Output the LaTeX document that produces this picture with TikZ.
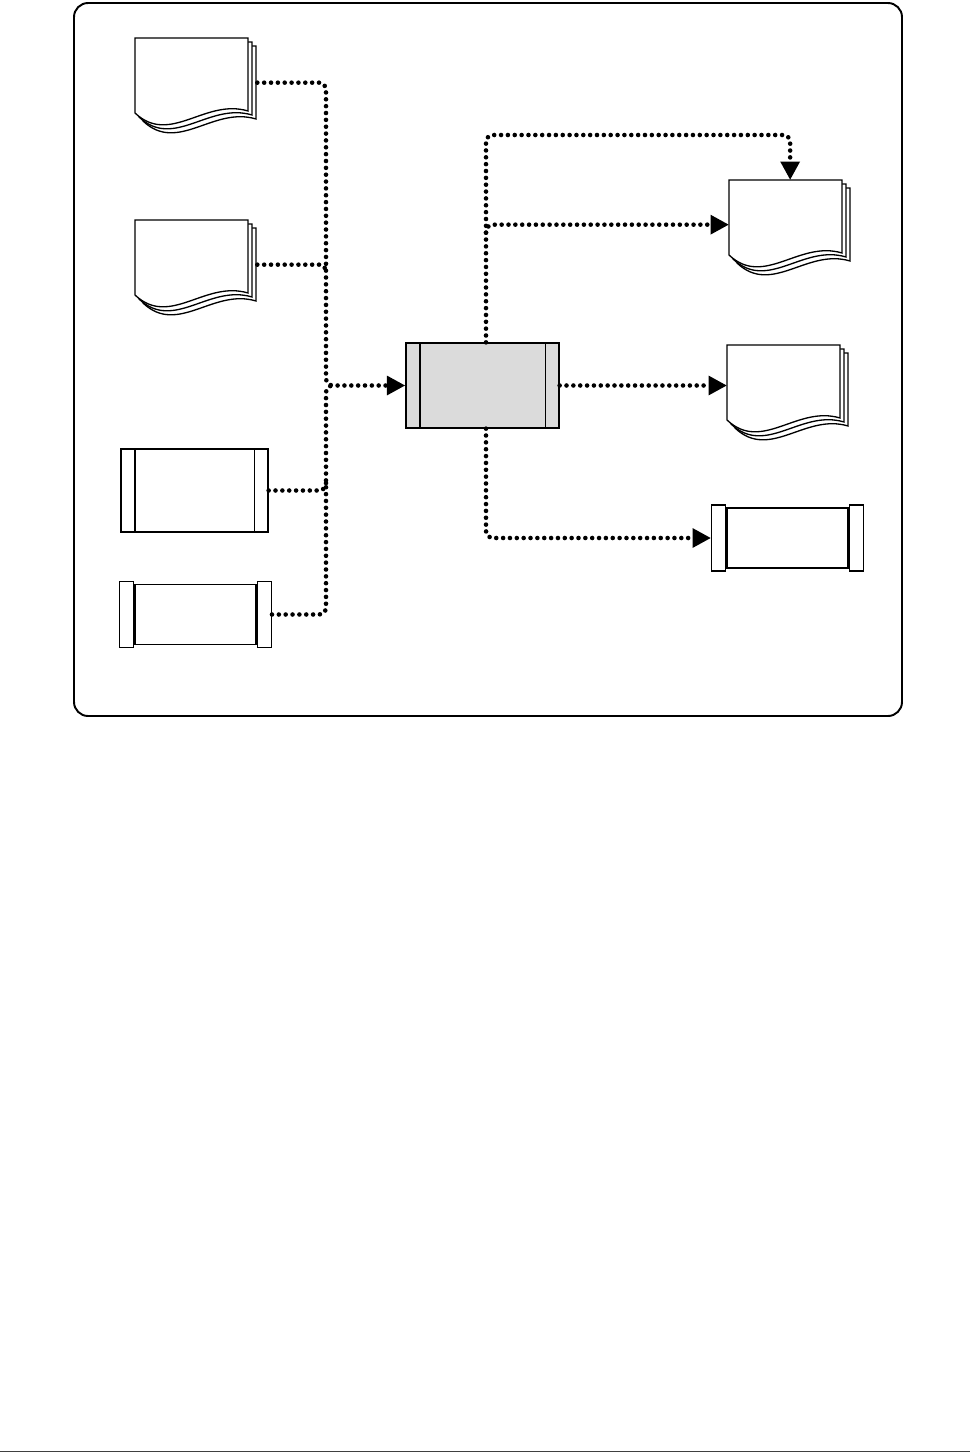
\documentclass[tikz,border=0pt]{standalone}
\usepackage{tikz}
\usetikzlibrary{arrows.meta, positioning, calc}

\begin{document}
\begin{tikzpicture}[
  line width=0.75pt,
  flow/.style={line width=2.6pt, line cap=round, dash pattern=on 0pt off 3.9pt,
    rounded corners=4pt, -{Triangle[length=10.5pt, width=10.5pt]}},
  procbox/.style={rectangle, draw, inner sep=0pt,
    path picture={\draw ([xshift=0.28cm]path picture bounding box.north west) -- ([xshift=0.28cm]path picture bounding box.south west)
      ([xshift=-0.27cm]path picture bounding box.north east) -- ([xshift=-0.27cm]path picture bounding box.south east);}},
  capbox/.style={rectangle, draw, fill=white, inner sep=0pt, minimum width=0.28cm, minimum height=1.32cm},
  docstack/.pic={
    \foreach \o in {0.16,0.08,0} {
      \draw[fill=white, shift={(\o,-\o)}] (0,0) -- (2.26,0) -- (2.26,-1.46)
        .. controls (1.4,-1.2) and (0.7,-2.16) .. (0,-1.5) -- cycle;
    }
    \node[inner sep=0pt, minimum width=2.42cm, minimum height=1.76cm, anchor=north west] (-box) at (0,0) {};
  },
  tape/.pic={
    \node[rectangle, draw, fill=white, inner sep=0pt, minimum width=2.42cm, minimum height=1.2cm] (-mid) at (0,0) {};
    \node[capbox, anchor=east] (-l) at (-mid.west) {};
    \node[capbox, anchor=west] (-r) at (-mid.east) {};
  }
]
\useasboundingbox (0,0) rectangle (19.4,-29.06);
\draw[line width=1.1pt, rounded corners=8pt] (1.48,-0.06) rectangle (18.04,-14.32);

% inputs
\pic (d1) at (2.7,-0.76) {docstack};
\pic (d2) at (2.7,-4.4) {docstack};
\node[procbox, minimum width=2.94cm, minimum height=1.66cm] (r1) at (3.89,-9.81) {};
\pic (r2) at (3.91,-12.29) {tape};

% center
\node[procbox, fill=black!14, minimum width=3.06cm, minimum height=1.7cm] (c) at (9.65,-7.71) {};

% outputs
\pic (d3) at (14.58,-3.6) {docstack};
\pic (d4) at (14.54,-6.9) {docstack};
\pic (r3) at (15.75,-10.76) {tape};

\coordinate (bus) at (6.52,-7.71);
\coordinate (cn) at ([xshift=0.07cm]c.north);
\coordinate (cs) at ([xshift=0.07cm]c.south);

\draw[flow] (d1-box.east) -| (bus) -- (c.west);
\draw[flow, -] (d2-box.east) -- (bus |- d2-box.east) -- ++(0,-0.16);
\draw[flow, -] (r1.east) -- (bus |- r1.east) -- ++(0,0.16);
\draw[flow, -] (r2-r.east) -| (bus) -- ++(0.16,0);

\draw[flow] (cn) |- ([yshift=0.9cm]d3-box.north) -- (d3-box.north);
\draw[flow] ([yshift=-0.16cm]cn |- d3-box.west) |- (d3-box.west);
\draw[flow] (c.east) -- (c.east -| d4-box.west);
\draw[flow] (cs) |- (r3-l.west);

\draw[line width=0.8pt, black!75] (0,-29.03) -- (19.4,-29.03);
\end{tikzpicture}
\end{document}
